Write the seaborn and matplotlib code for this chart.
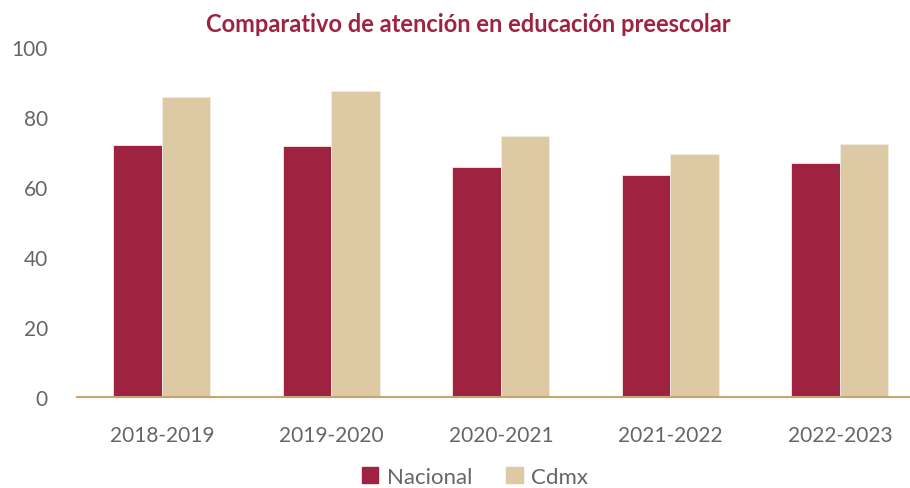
import pandas as pd
import matplotlib
matplotlib.use('Agg')
import matplotlib.pyplot as plt
import seaborn as sns

# data
ciclos = ['2018-2019', '2019-2020', '2020-2021', '2021-2022', '2022-2023']
nacional = [72.0, 71.6, 65.7, 63.4, 66.8]
cdmx = [85.7, 87.4, 74.5, 69.3, 72.4]
series = ['Nacional', 'Cdmx']
colores = ['#9F2241', '#DDC9A3']

df = pd.DataFrame({
    'ciclo': ciclos * 2,
    'valor': nacional + cdmx,
    'serie': ['Nacional'] * len(ciclos) + ['Cdmx'] * len(ciclos),
})

sns.set_style('white')
plt.rcParams['font.family'] = ['Lato', 'DejaVu Sans']

fig = plt.figure(figsize=(9.10, 4.89), dpi=100)
ax = fig.add_axes([77 / 910, 1 - 398 / 489, 1 - 77 / 910, 350 / 489])

sns.barplot(data=df, x='ciclo', y='valor', hue='serie', hue_order=series,
            palette=colores, width=0.572, saturation=1, ax=ax, legend=False,
            edgecolor='#f4ece0', linewidth=0.6)

ax.set_ylim(0, 100)
ax.set_xlim(-0.5, 4.413)
ax.set_yticks([0, 20, 40, 60, 80, 100])
ax.set_xlabel('')
ax.set_ylabel('')
for s in ['top', 'right', 'left']:
    ax.spines[s].set_visible(False)
ax.spines['bottom'].set_color('#C9A56E')
ax.spines['bottom'].set_linewidth(1.5)
ax.tick_params(axis='both', length=0, labelsize=15, labelcolor='#666666')
ax.tick_params(axis='y', pad=21)
ax.tick_params(axis='x', pad=20)

fig.text(468 / 910, 1 - 25 / 489, 'Comparativo de atención en educación preescolar',
         ha='center', va='center', fontsize=17, fontweight='bold', color='#9F2241')

handles = [plt.Rectangle((0, 0), 1, 1, color=c) for c in colores]
fig.legend(handles, series, loc='center', bbox_to_anchor=(475 / 910, 1 - 478 / 489),
           ncol=2, frameon=False, fontsize=16, labelcolor='#666666',
           handlelength=0.75, handleheight=0.75, handletextpad=0.4, columnspacing=1.5)

fig.savefig('out.png', dpi=100)
